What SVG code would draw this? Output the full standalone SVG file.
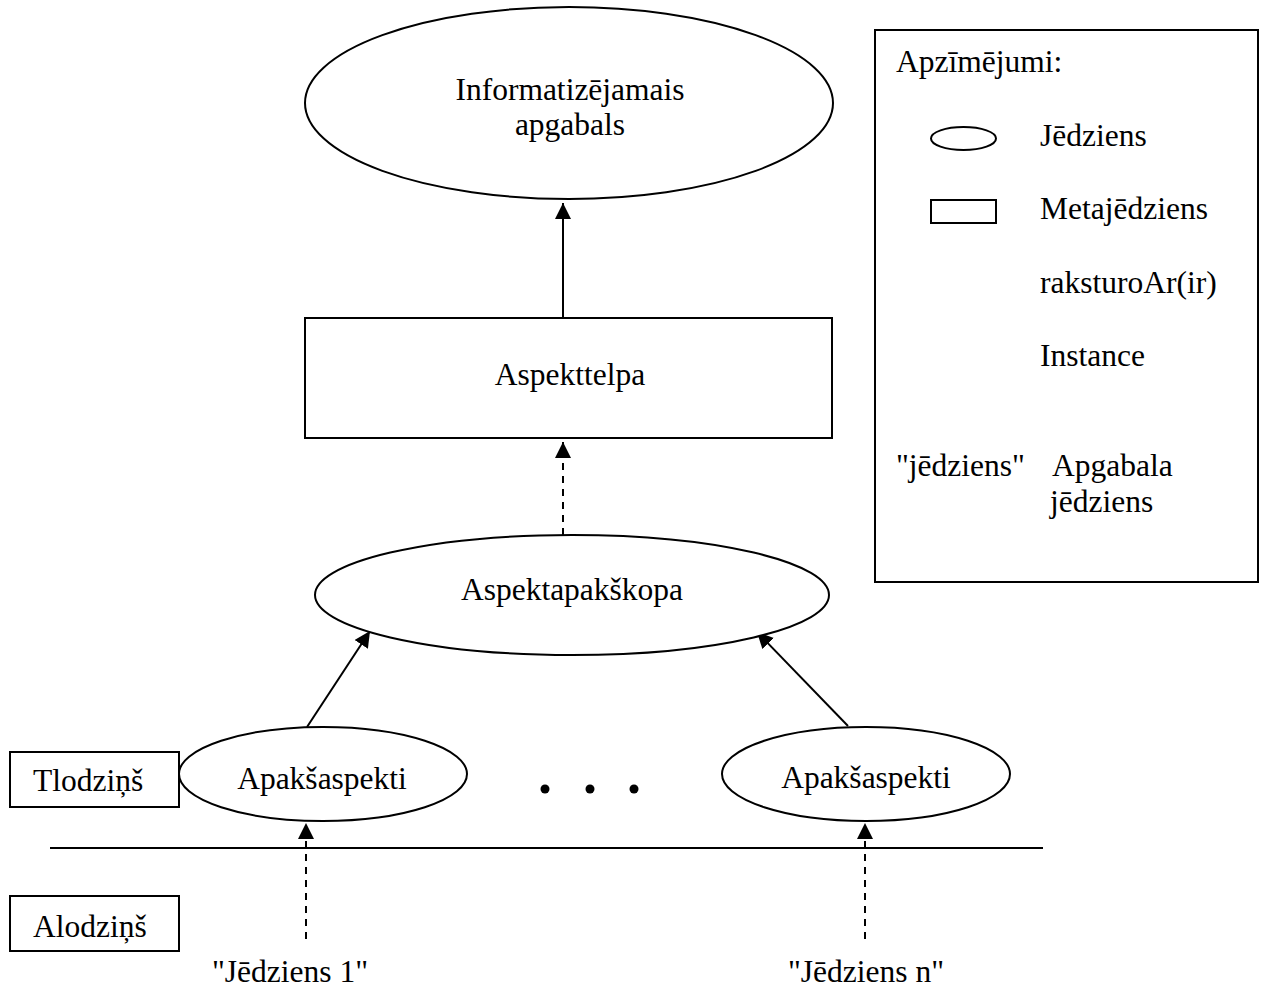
<svg xmlns="http://www.w3.org/2000/svg" width="1263" height="988" viewBox="0 0 1263 988">
  <style>
    .shape { fill: #fff; stroke: #000; stroke-width: 2; }
    .lbl { font-family: "Liberation Serif", "Times New Roman", serif; font-size: 31.5px; fill: #000; }
    .mid { text-anchor: middle; }
    .edge { fill: none; stroke: #000; stroke-width: 2; }
    .dash { stroke-dasharray: 7 6; }
  </style>
  <defs>
    <marker id="arrow" markerUnits="userSpaceOnUse" markerWidth="17" markerHeight="17" refX="16" refY="8" orient="auto">
      <path d="M0,0 L16,8 L0,16 Z" fill="#000"/>
    </marker>
  </defs>

  <rect width="1263" height="988" fill="#fff"/>

  <!-- connectors -->
  <g id="connectors">
    <line class="edge" x1="563" y1="318" x2="563" y2="203" marker-end="url(#arrow)"/>
    <line class="edge dash" x1="563" y1="535" x2="563" y2="442" marker-end="url(#arrow)"/>
    <line class="edge" x1="307" y1="727" x2="370" y2="631" marker-end="url(#arrow)"/>
    <line class="edge" x1="848" y1="726" x2="757" y2="632" marker-end="url(#arrow)"/>
    <line class="edge dash" x1="306" y1="939" x2="306" y2="823" marker-end="url(#arrow)"/>
    <line class="edge dash" x1="865" y1="939" x2="865" y2="823" marker-end="url(#arrow)"/>
  </g>

  <!-- level separator -->
  <line id="separator" x1="50" y1="848" x2="1043" y2="848" stroke="#000" stroke-width="2"/>

  <g id="informatizejamais">
    <ellipse class="shape" cx="569" cy="103" rx="264" ry="96"/>
    <text class="lbl mid" x="570" y="100">Informatizējamais</text>
    <text class="lbl mid" x="570" y="135">apgabals</text>
  </g>

  <g id="aspekttelpa">
    <rect class="shape" x="305" y="318" width="527" height="120"/>
    <text class="lbl mid" x="570" y="385">Aspekttelpa</text>
  </g>

  <g id="aspektapakskopa">
    <ellipse class="shape" cx="572" cy="595" rx="257" ry="60"/>
    <text class="lbl mid" x="572" y="600">Aspektapakškopa</text>
  </g>

  <g id="apakssaspekti-1">
    <ellipse class="shape" cx="323" cy="774" rx="144" ry="47"/>
    <text class="lbl mid" x="322" y="789">Apakšaspekti</text>
  </g>

  <g id="apakssaspekti-n">
    <ellipse class="shape" cx="866" cy="774" rx="144" ry="47"/>
    <text class="lbl mid" x="866" y="788">Apakšaspekti</text>
  </g>

  <g id="ellipsis">
    <circle cx="545" cy="789" r="4.5"/>
    <circle cx="590" cy="789" r="4.5"/>
    <circle cx="634" cy="789" r="4.5"/>
  </g>

  <g id="tlodzins">
    <rect class="shape" x="10" y="752" width="169" height="55"/>
    <text class="lbl" x="33" y="791">Tlodziņš</text>
  </g>

  <g id="alodzins">
    <rect class="shape" x="10" y="896" width="169" height="55"/>
    <text class="lbl" x="33" y="937">Alodziņš</text>
  </g>

  <g id="jedziens-1">
    <text class="lbl mid" x="290" y="982">"Jēdziens 1"</text>
  </g>

  <g id="jedziens-n">
    <text class="lbl mid" x="866" y="982">"Jēdziens n"</text>
  </g>

  <g id="legend">
    <rect class="shape" x="875" y="30" width="383" height="552"/>
    <text class="lbl" x="896" y="72">Apzīmējumi:</text>
    <ellipse class="shape" cx="963.5" cy="138.5" rx="32.5" ry="11.5"/>
    <text class="lbl" x="1040" y="146">Jēdziens</text>
    <rect class="shape" x="931" y="200" width="65" height="23"/>
    <text class="lbl" x="1040" y="219">Metajēdziens</text>
    <text class="lbl" x="1040" y="293">raksturoAr(ir)</text>
    <text class="lbl" x="1040" y="366">Instance</text>
    <text class="lbl" x="896" y="476">"jēdziens"</text>
    <text class="lbl" x="1052" y="476">Apgabala</text>
    <text class="lbl" x="1050" y="512">jēdziens</text>
  </g>
</svg>
